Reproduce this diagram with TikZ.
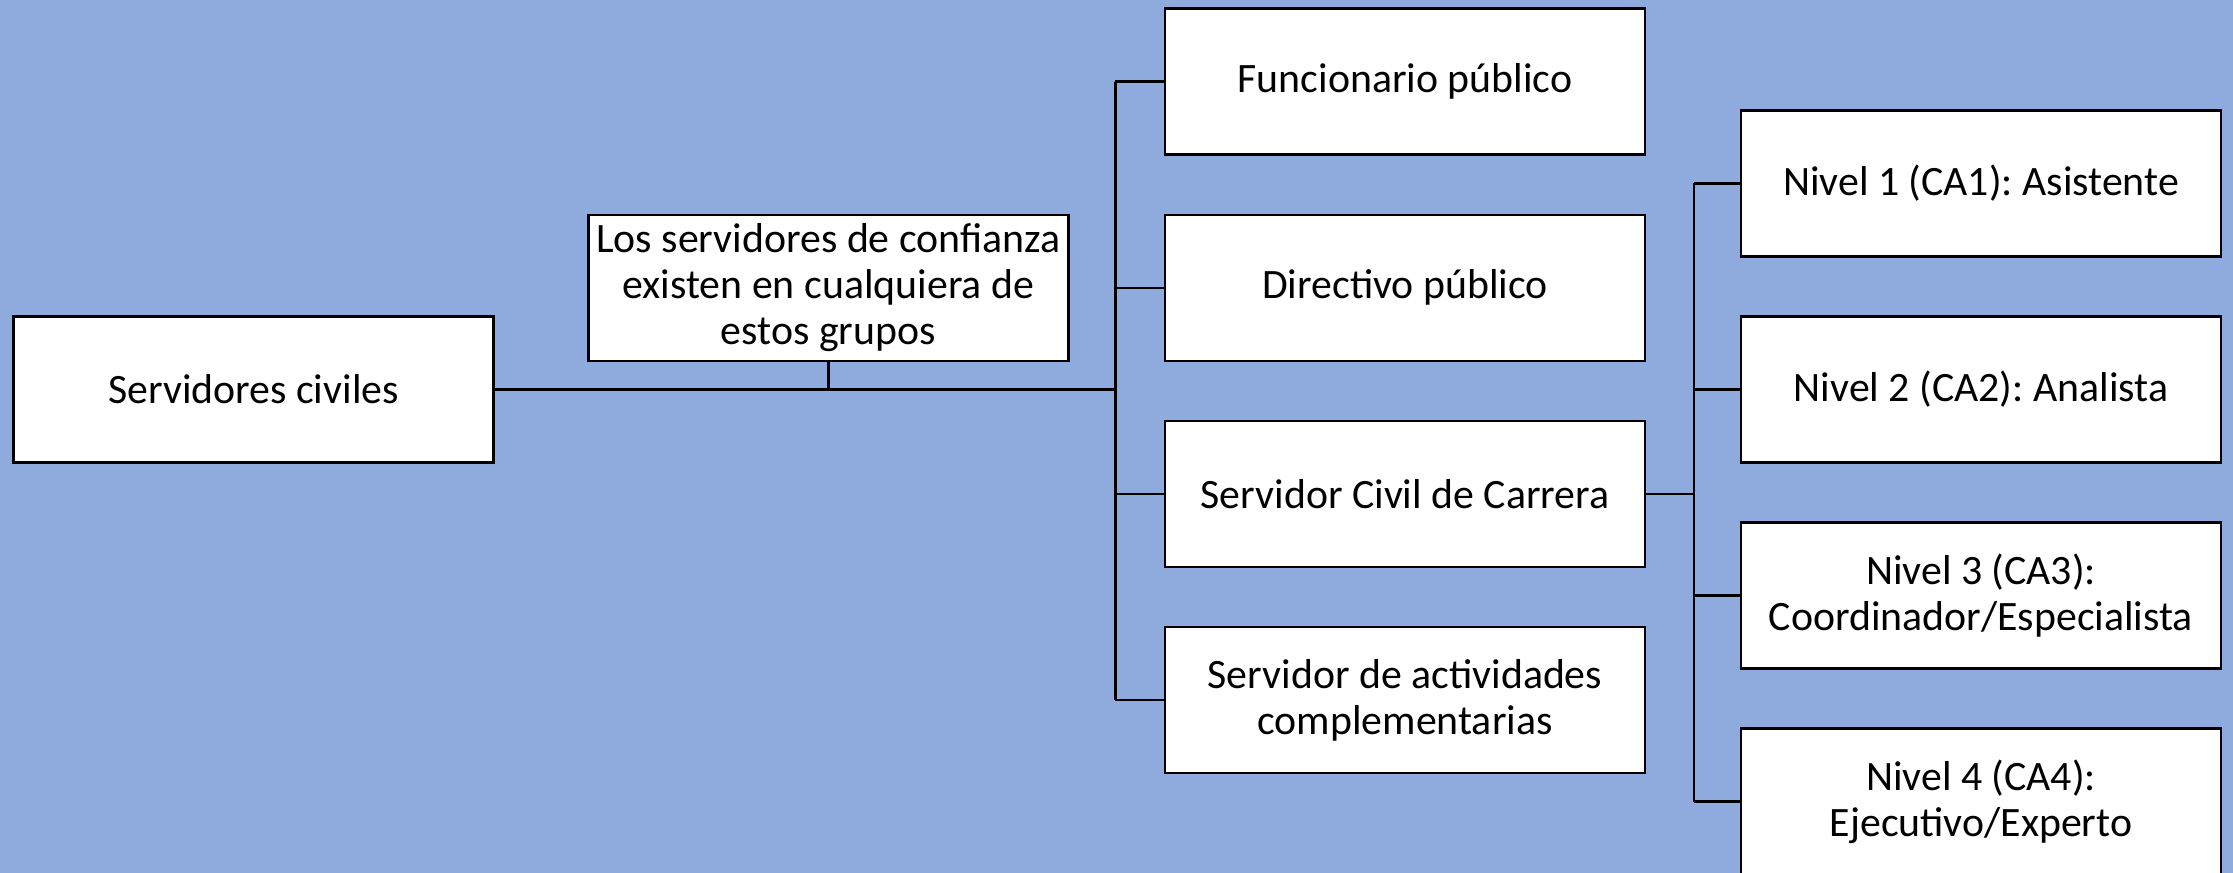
\documentclass[tikz,border=0pt]{standalone}
\usepackage{fontspec}
\setmainfont{Carlito}
\frenchspacing
\usetikzlibrary{positioning}
\definecolor{bgblue}{HTML}{8FAADC}
\tikzset{
    box/.style={draw, line width=0.75pt, fill=white, minimum width=4.8cm, minimum height=1.46cm, inner sep=0pt, align=center, font=\fontsize{11.9}{13.1}\selectfont}, % the white boxes
    conn/.style={line width=0.75pt}, % the lines between the boxes
    node distance=0.575cm and 0.94cm, % vertical and horizontal gaps between boxes
}

\begin{document}
\begin{tikzpicture}
    \path[use as bounding box, fill=bgblue] (-2.535,3.895) rectangle (19.795,-4.835);
    \node[box] (civ) at (0,0) {Servidores civiles};
    \node[box] (car) at (11.515,-1.045) {Servidor Civil de Carrera};
    \node[box, above=of car] (dir) {Directivo público};
    \node[box, above=of dir] (fun) {Funcionario público};
    \node[box, below=of car] (act) {Servidor de actividades\\complementarias};
    \node[box, left=of dir] (conf) {Los servidores de confianza\\existen en cualquiera de\\estos grupos};
    \node[box] (niv2) at (17.275,0) {Nivel 2 (CA2): Analista};
    \node[box, above=of niv2] (niv1) {Nivel 1 (CA1): Asistente};
    \node[box, below=of niv2] (niv3) {Nivel 3 (CA3):\\Coordinador/Especialista};
    \node[box, below=of niv3] (niv4) {Nivel 4 (CA4):\\Ejecutivo/Experto};
    \coordinate[left=0.485cm of car.west] (j1);
    \coordinate[right=0.475cm of car.east] (j2);
    \draw[conn]
    (civ.east) -- (civ.east -| j1)
    (conf.south) -- (conf.south |- civ.east)
    (j1 |- fun.west) -- (j1 |- act.west)
    (fun.west) -- (fun.west -| j1)
    (dir.west) -- (dir.west -| j1)
    (car.west) -- (j1)
    (act.west) -- (act.west -| j1)
    (car.east) -- (j2)
    (j2 |- niv1.west) -- (j2 |- niv4.west)
    (niv1.west) -- (niv1.west -| j2)
    (niv2.west) -- (niv2.west -| j2)
    (niv3.west) -- (niv3.west -| j2)
    (niv4.west) -- (niv4.west -| j2);
\end{tikzpicture}
\end{document}
